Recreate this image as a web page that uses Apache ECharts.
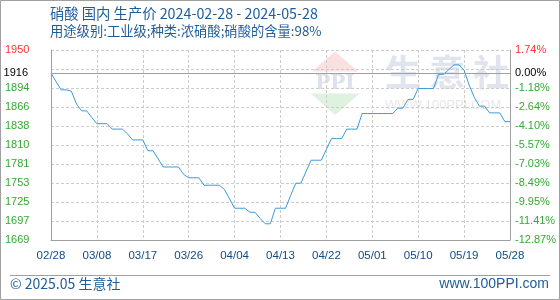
<!DOCTYPE html>
<html><head><meta charset="utf-8">
<script src="https://cdn.jsdelivr.net/npm/echarts@6/dist/echarts.min.js"></script>
<style>html,body{margin:0;padding:0;background:#fff}#c{width:560px;height:300px}</style>
</head><body><div id="c"></div>
<script>
var titleLine1 = '硝酸 国内 生产价 2024-02-28 - 2024-05-28';
var titleLine2 = '用途级别:工业级;种类:浓硝酸;硝酸的含量:98%';
var startDate = '2024-02-28';
var dayCount = 91;
var prices = [1916,1903,1891,1891,1889,1870,1860,1860,1850,1841,
  1841,1841,1833,1833,1833,1826,1817,1817,1817,1801,
  1801,1789,1777,1777,1777,1777,1766,1761,1761,1761,
  1750,1750,1750,1750,1744,1730,1716,1716,1716,1710,
  1710,1701,1693,1693,1716,1716,1716,1735,1753,1753,
  1770,1787,1787,1787,1803,1819,1819,1819,1833,1833,
  1833,1856,1856,1856,1856,1856,1856,1856,1864,1864,
  1877,1877,1893,1893,1893,1893,1914,1914,1921,1928,
  1928,1920,1898,1880,1867,1867,1857,1857,1857,1844,1844];
var basePrice = 1916;
var yMin = 1669, yMax = 1950;
var leftLabels = ['1669','1697','1725','1753','1781','1810','1838','1866','1894','','1950'];
var rightLabels = ['-12.87%','-11.41%','-9.95%','-8.49%','-7.03%','-5.57%','-4.10%','-2.64%','-1.18%','','1.74%'];
var baseLeftLabel = '1916', baseRightLabel = '0.00%';

var dates = [];
(function(){
  var d = new Date(startDate + 'T00:00:00Z');
  for (var i = 0; i < dayCount; i++) {
    var m = d.getUTCMonth() + 1, dd = d.getUTCDate();
    dates.push((m < 10 ? '0' : '') + m + '/' + (dd < 10 ? '0' : '') + dd);
    d.setUTCDate(d.getUTCDate() + 1);
  }
})();

var chart = echarts.init(document.getElementById('c'), null, {renderer: 'canvas'});
var lblFont = '"Liberation Sans", Arial, sans-serif';
var cjk = '"Noto Sans CJK SC", sans-serif';
var blue = '#1e5c9a';
var rich = {
  r: {color: '#ff3333', fontSize: 11, fontFamily: lblFont},
  g: {color: '#33aa33', fontSize: 11, fontFamily: lblFont}
};
function fmt(arr) {
  return function (v) {
    var i = Math.round(v);
    var s = arr[i];
    if (!s) return '';
    return (i === arr.length - 1 ? '{r|' : '{g|') + s + '}';
  };
}
chart.setOption({
  animation: false,
  grid: {left: 51, right: 50, top: 50, bottom: 60},
  graphic: [
    {type: 'rect', z: -5, shape: {x: 0.5, y: 0.5, width: 559, height: 299}, style: {fill: 'none', stroke: '#a0a0a0', lineWidth: 1}},
    {type: 'line', z: -5, shape: {x1: 10, y1: 275.5, x2: 550, y2: 275.5}, style: {stroke: '#a0a0a0', lineWidth: 1}},
    {type: 'text', left: 50, top: 6, style: {text: titleLine1, fill: blue, font: '14.3px ' + cjk}},
    {type: 'text', left: 50, top: 24, style: {text: titleLine2, fill: blue, font: '13.3px ' + cjk}},
    {type: 'text', left: 10, top: 277, style: {text: '© 2025.05 生意社', fill: blue, font: '14px ' + cjk}},
    {type: 'text', right: 11, top: 277, style: {text: 'www.100PPI.com', fill: blue, font: '14px ' + lblFont}},
    // watermark
    {type: 'polygon', z: -2, shape: {points: [[335, 51.5], [358, 71.5], [312, 71.5]]}, style: {fill: '#fae0e0'}},
    {type: 'polygon', z: -2, shape: {points: [[311, 93.5], [360, 93.5], [335, 115]]}, style: {fill: '#dff2df'}},
    {type: 'text', z: -2, x: 335, y: 84, style: {text: 'PPI', fill: '#dce1ec', font: 'bold 20px "DejaVu Serif", serif', textAlign: 'center', textVerticalAlign: 'middle'}},
    {type: 'text', z: -2, x: 385, y: 72, style: {text: '生 意 社', fill: '#dfe4ee', font: 'bold 36px ' + cjk, textVerticalAlign: 'middle'}},
    {type: 'text', z: -2, x: 385, y: 105, style: {text: 'WWW.100PPI.COM', fill: '#e8e8e8', font: '13px ' + lblFont, textVerticalAlign: 'middle'}}
  ],
  xAxis: {
    type: 'category', data: dates, boundaryGap: false,
    axisLine: {lineStyle: {color: '#a0a0a0'}},
    axisTick: {show: false},
    axisLabel: {interval: 8, margin: 10, color: '#0e4c86', fontSize: 11.5, fontFamily: lblFont},
    splitLine: {show: true, interval: 8, lineStyle: {color: '#cccccc', type: [3, 2]}}
  },
  yAxis: [
    {type: 'value', min: yMin, max: yMax, show: false, splitLine: {show: false}},
    {type: 'value', min: 0, max: 10, interval: 1, position: 'left',
      axisLine: {show: true, lineStyle: {color: '#a0a0a0'}}, axisTick: {show: false},
      axisLabel: {formatter: fmt(leftLabels), rich: rich, align: 'left', margin: 46, showMinLabel: true, showMaxLabel: true},
      splitLine: {show: true, lineStyle: {color: '#cccccc', type: [3, 2]}}},
    {type: 'value', min: 0, max: 10, interval: 1, position: 'right',
      axisLine: {show: true, lineStyle: {color: '#a0a0a0'}}, axisTick: {show: false},
      axisLabel: {formatter: fmt(rightLabels), rich: rich, margin: 5, showMinLabel: true, showMaxLabel: true},
      splitLine: {show: false}}
  ],
  series: [{
    type: 'line', data: prices, yAxisIndex: 0, symbol: 'none',
    lineStyle: {color: '#3a9ad8', width: 1},
    markLine: {
      silent: true, symbol: 'none', animation: false,
      lineStyle: {color: '#a0a0a0', type: 'solid', width: 1},
      data: [
        {yAxis: basePrice, label: {position: 'start', formatter: baseLeftLabel, color: '#000', fontSize: 11, fontFamily: lblFont, distance: 23}},
        {yAxis: basePrice, label: {position: 'end', formatter: baseRightLabel, color: '#000', fontSize: 11, fontFamily: lblFont, distance: 5}}
      ]
    }
  }]
});
</script></body></html>
